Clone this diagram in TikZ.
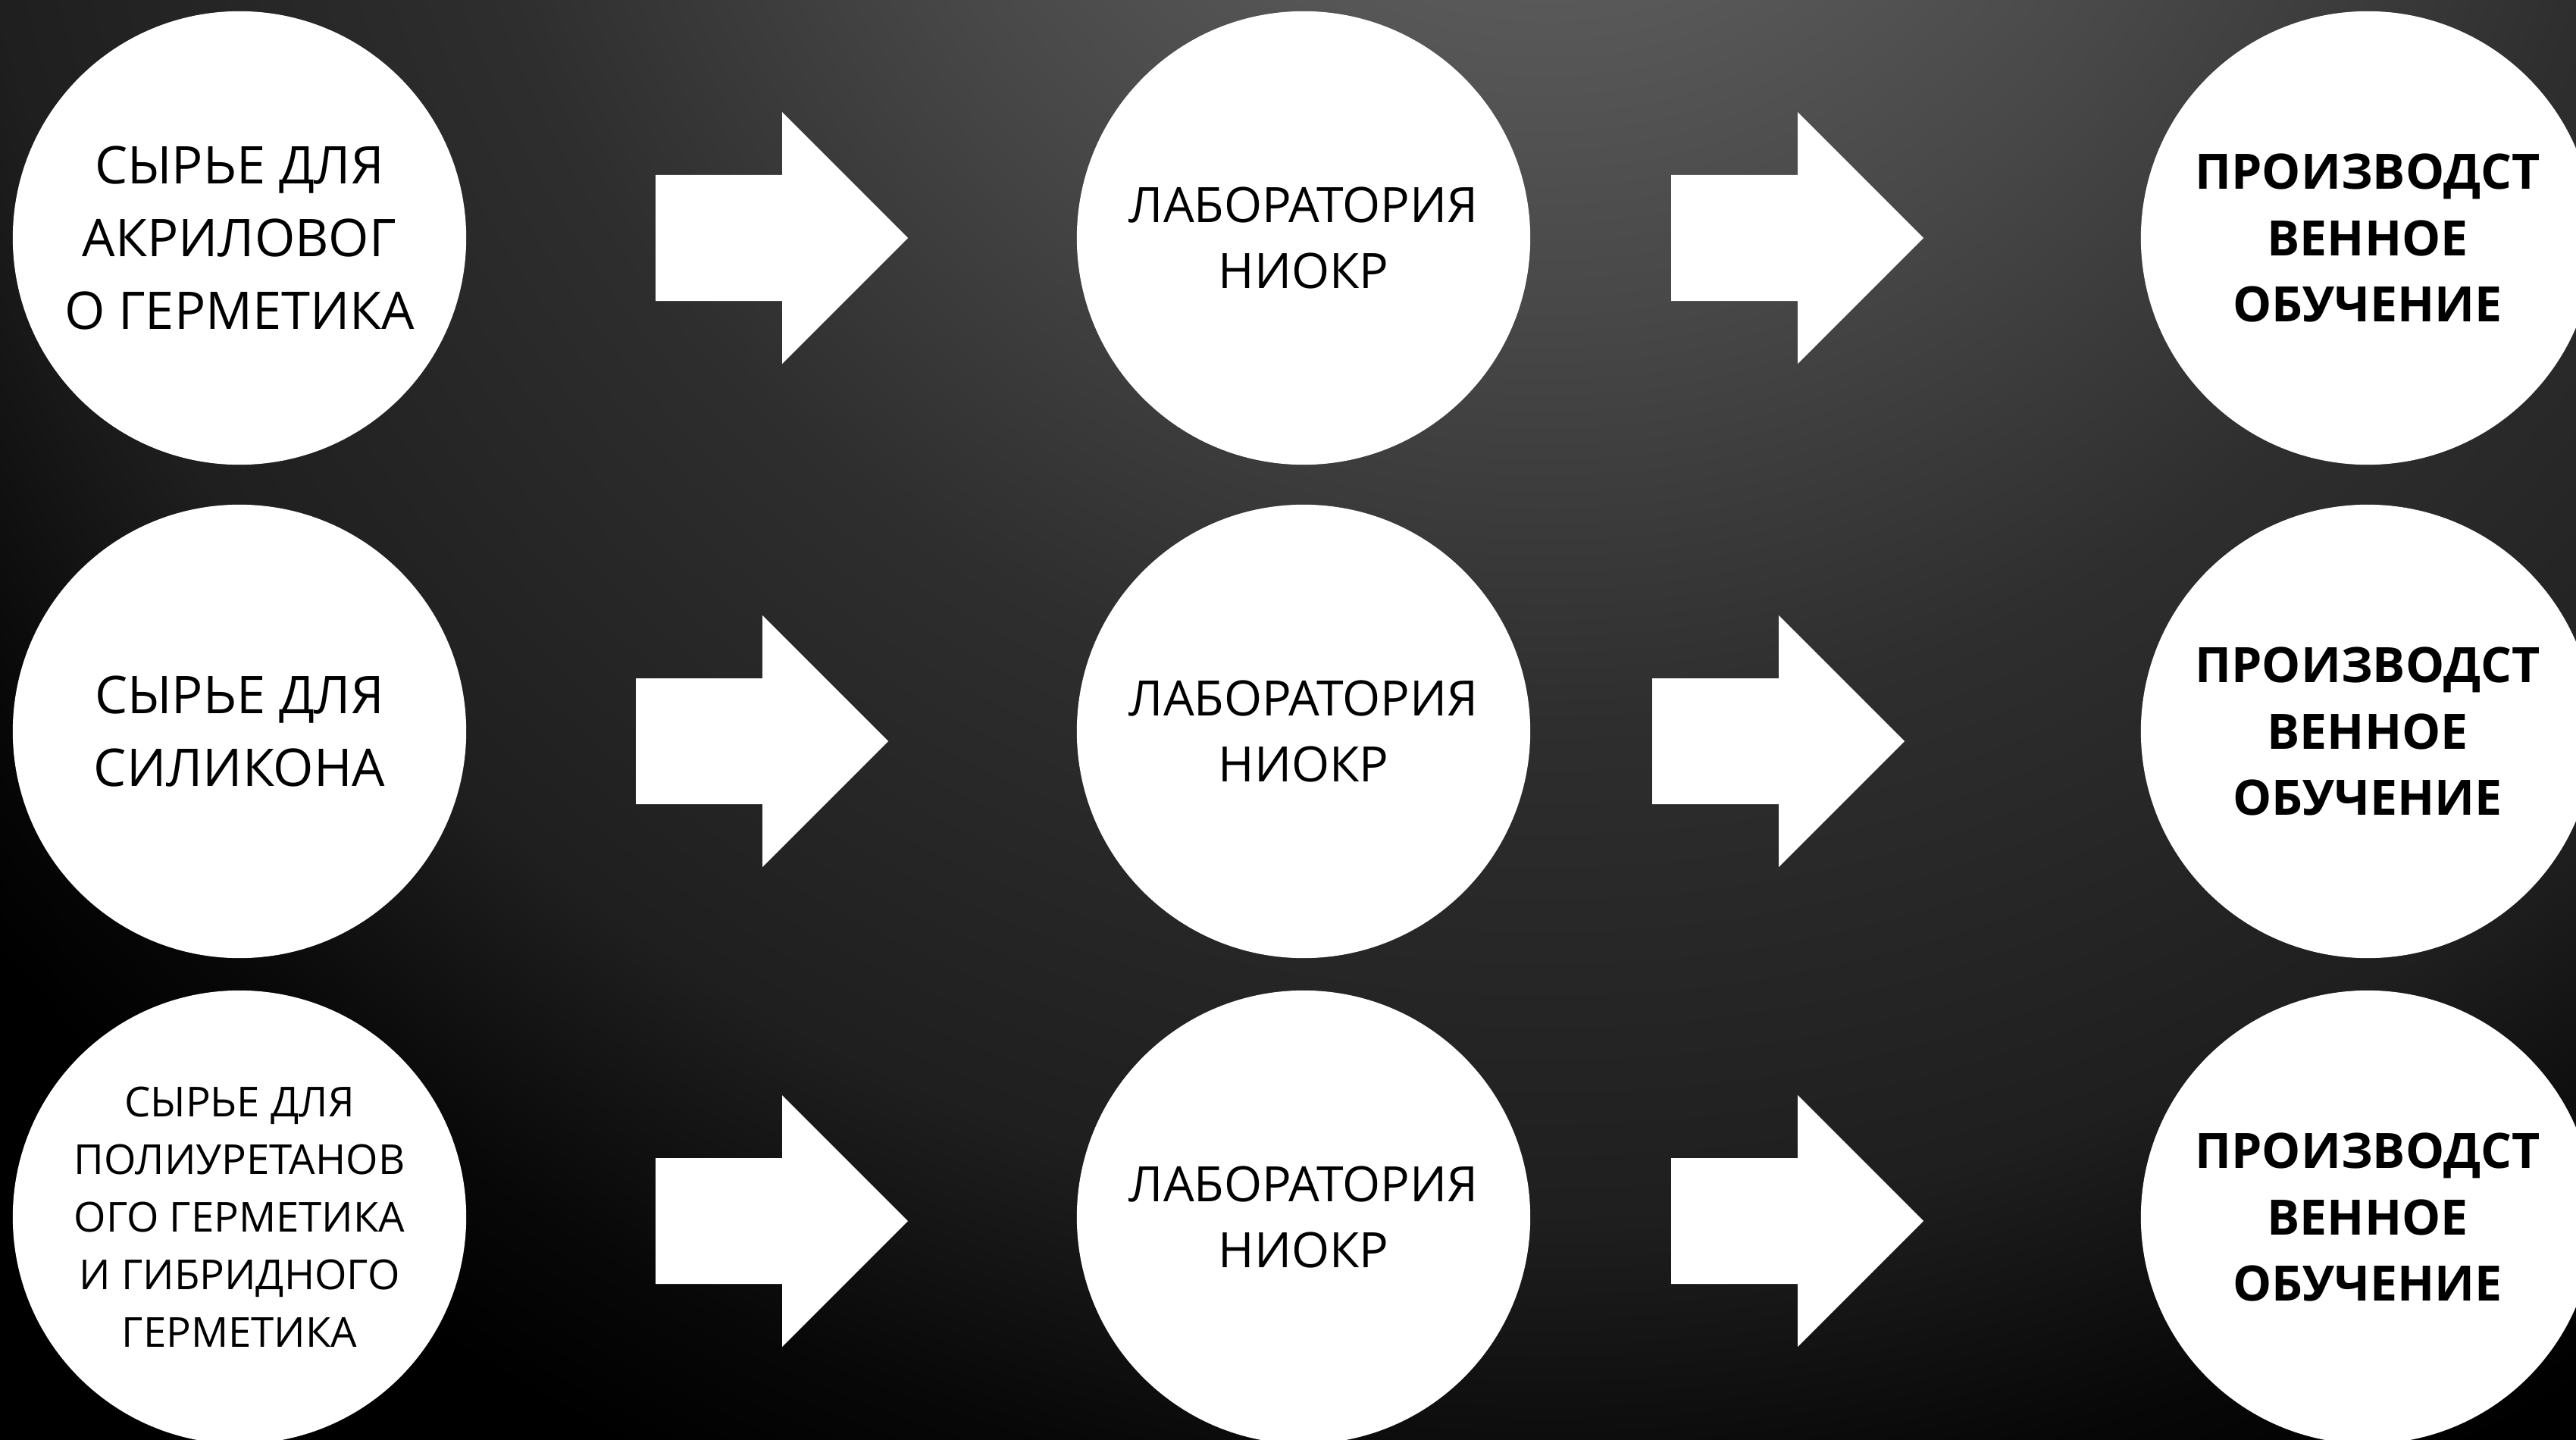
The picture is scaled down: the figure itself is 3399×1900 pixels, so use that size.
\documentclass[tikz,border=0pt]{standalone}
\usepackage{fontspec}
\setmainfont{Open Sans}
\usepackage{tikz}

\definecolor{fon0}{gray}{0.39}
\definecolor{fon1}{gray}{0.35}
\definecolor{fon2}{gray}{0.28}
\definecolor{fon3}{gray}{0.18}
\definecolor{fon4}{gray}{0.12}
\definecolor{fon5}{gray}{0.03}
\pgfdeclareradialshading{fonsvet}{\pgfpoint{0bp}{0bp}}{%
    color(0bp)=(fon0); color(4.5bp)=(fon1); color(8.5bp)=(fon2);
    color(13.5bp)=(fon3); color(19.5bp)=(fon4); color(23bp)=(fon5);
    color(25bp)=(black); color(50bp)=(black)}

\tikzset{
    krug/.style    = {circle, fill=white, draw=none, minimum size=5.98cm, inner sep=0pt,
                      align=center, text=black},
    syrje/.style   = {krug, font=\fontsize{19.5}{27.3}\selectfont},
    syrjem/.style  = {krug, font=\fontsize{15.5}{21.6}\selectfont},
    lab/.style     = {krug, font=\fontsize{18.3}{25}\selectfont},
    proizv/.style  = {krug, font=\fontsize{18.3}{25}\selectfont\bfseries},
    strelka/.pic   = {\fill[white] (0,-83) -- (167,-83) -- (167,-166) -- (333,0)
                      -- (167,166) -- (167,83) -- (0,83) -- cycle;},
}

\begin{document}
\begin{tikzpicture}[x=0.01cm, y=-0.01cm]
    \useasboundingbox (0,0) rectangle (3399,1900);
    \clip (0,0) rectangle (3399,1900);
    \fill[black] (0,0) rectangle (3399,1900);
    \shade[shading=fonsvet] (2040,-500) circle[radius=2700];
    % syrje
    \node[syrje]  (S1) at (316,314)  {СЫРЬЕ ДЛЯ\\АКРИЛОВОГ\\О ГЕРМЕТИКА};
    \node[syrje]  (S2) at (316,965)  {СЫРЬЕ ДЛЯ\\СИЛИКОНА};
    \node[syrjem] (S3) at (316,1606) {СЫРЬЕ ДЛЯ\\ПОЛИУРЕТАНОВ\\ОГО ГЕРМЕТИКА\\И ГИБРИДНОГО\\ГЕРМЕТИКА};
    % laboratorija i proizvodstvo
    \foreach \y [count=\i] in {314,965,1606} {
        \node[lab]    (L\i) at (1720,\y) {ЛАБОРАТОРИЯ\\НИОКР};
        \node[proizv] (P\i) at (3124,\y) {ПРОИЗВОДСТ\\ВЕННОЕ\\ОБУЧЕНИЕ};
    }
    % strelki
    \foreach \x/\y in {865/314, 2205/314, 839/978, 2180/978, 865/1611, 2205/1611}
        \pic at (\x,\y) {strelka};
\end{tikzpicture}
\end{document}
